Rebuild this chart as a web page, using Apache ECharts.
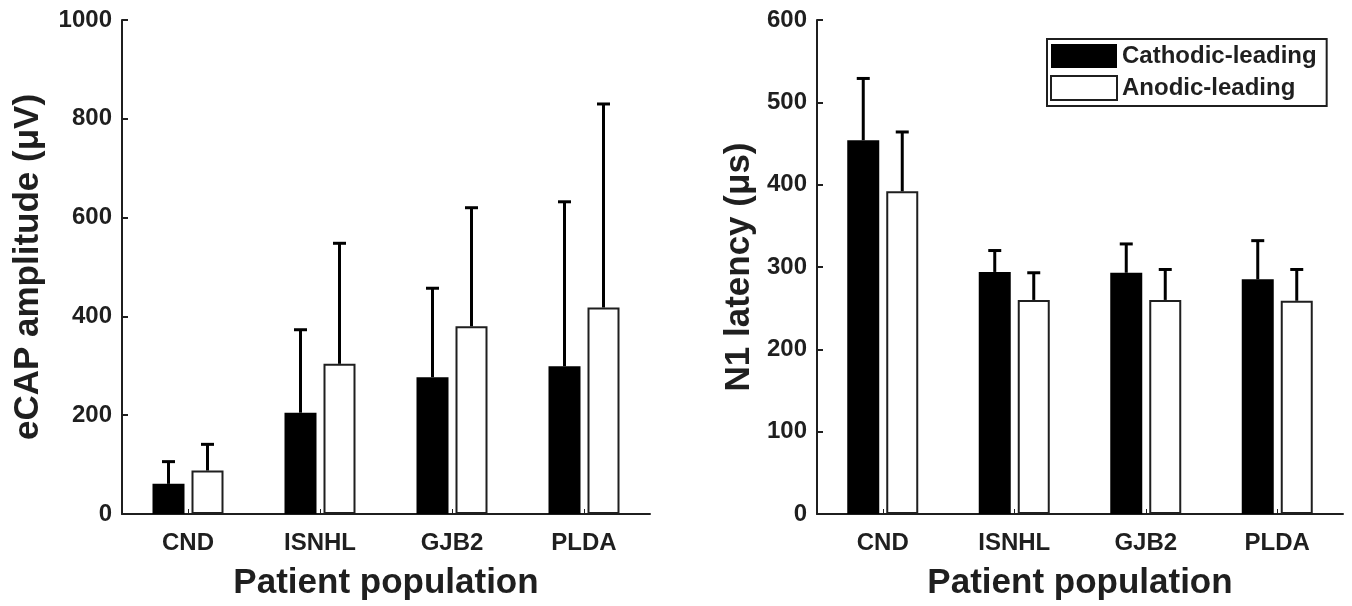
<!DOCTYPE html>
<html><head><meta charset="utf-8">
<script src="https://cdn.jsdelivr.net/npm/echarts@6/dist/echarts.min.js"></script>
<style>html,body{margin:0;padding:0;background:#fff}#c{width:1352px;height:606px}</style>
</head><body><div id="c"></div>
<script>
// ---- data ----
const categories = ['CND', 'ISNHL', 'GJB2', 'PLDA'];
const seriesNames = ['Cathodic-leading', 'Anodic-leading'];
const ampCathodic = [61, 205, 277, 299];
const ampCathodicSD = [45, 168, 180, 333];
const ampAnodic = [88, 304, 380, 418];
const ampAnodicSD = [53, 244, 240, 412];
const latCathodic = [454, 294, 293, 285];
const latCathodicSD = [75, 26, 35, 47];
const latAnodic = [392, 260, 260, 259];
const latAnodicSD = [72, 33, 37, 38];
const xTitle = 'Patient population';
const ampTitle = 'eCAP amplitude (\u03bcV)';
const latTitle = 'N1 latency (\u03bcs)';

// ---- styling ----
const FONT = '"Liberation Sans", Arial, Helvetica, sans-serif';
const INK = '#1f1f1f';
const BAR_W = 32;
const BAR_GAP = 7;
const labelStyle = {fontSize: 24, fontWeight: 'bold', color: INK, fontFamily: FONT};
const titleStyle = {fontSize: 35, fontWeight: 'bold', color: INK, fontFamily: FONT};

function xAxis(gi) {
  return {
    gridIndex: gi, type: 'category', data: categories,
    name: xTitle, nameLocation: 'middle', nameGap: 52, nameTextStyle: titleStyle,
    axisLine: {show: true, lineStyle: {color: INK, width: 2}},
    axisTick: {show: true, inside: true, alignWithLabel: true, length: 5, lineStyle: {color: INK, width: 1}},
    axisLabel: Object.assign({margin: 17}, labelStyle),
    splitLine: {show: false}
  };
}
function yAxis(gi, max, interval, title, gap) {
  return {
    gridIndex: gi, type: 'value', min: 0, max: max, interval: interval,
    name: title, nameLocation: 'middle', nameGap: gap, nameRotate: 90, nameTextStyle: titleStyle,
    axisLine: {show: true, lineStyle: {color: INK, width: 2}},
    axisTick: {show: true, inside: true, length: 6, lineStyle: {color: INK, width: 2}},
    axisLabel: Object.assign({margin: 10, formatter: v => String(v)}, labelStyle),
    splitLine: {show: false}
  };
}
function barSeries(gi, idx, values) {
  const filled = idx === 0;
  return {
    type: 'bar', name: seriesNames[idx], xAxisIndex: gi, yAxisIndex: gi,
    data: values, barWidth: BAR_W, barGap: (BAR_GAP / BAR_W * 100) + '%',
    itemStyle: filled ? {color: '#000', borderWidth: 0}
                      : {color: '#fff', borderColor: INK, borderWidth: 2},
    z: 2
  };
}
function errSeries(gi, idx, means, sds) {
  const offset = (idx === 0 ? -1 : 1) * (BAR_W + BAR_GAP) / 2;
  return {
    type: 'custom', name: 'err' + gi + idx, xAxisIndex: gi, yAxisIndex: gi,
    data: categories.map((c, i) => [i, means[i], sds[i]]),
    encode: {x: 0, y: 1},
    z: 3,
    renderItem: function (params, api) {
      const cat = api.value(0), m = api.value(1), s = api.value(2);
      const p0 = api.coord([cat, m]);
      const p1 = api.coord([cat, m + s]);
      const x = p0[0] + offset;
      const half = 6.5;
      const st = {stroke: '#000', lineWidth: 3};
      return {type: 'group', children: [
        {type: 'line', shape: {x1: x, y1: p0[1], x2: x, y2: p1[1]}, style: st},
        {type: 'line', shape: {x1: x - half, y1: p1[1], x2: x + half, y2: p1[1]}, style: st}
      ]};
    }
  };
}

const chart = echarts.init(document.getElementById('c'), null, {renderer: 'canvas'});
chart.setOption({
  animation: false,
  backgroundColor: '#fff',
  grid: [
    {left: 122, width: 528, top: 20, height: 497},
    {left: 817, width: 526, top: 20, height: 497}
  ],
  xAxis: [xAxis(0), xAxis(1)],
  yAxis: [yAxis(0, 1000, 200, ampTitle, 76), yAxis(1, 600, 100, latTitle, 60)],
  legend: {
    data: seriesNames, orient: 'vertical', left: 1047, top: 39,
    itemWidth: 66, itemHeight: 24, itemGap: 7, icon: 'rect',
    padding: [5, 10, 5, 3], borderColor: INK, borderWidth: 2,
    textStyle: labelStyle, selectedMode: false
  },
  series: [
    barSeries(0, 0, ampCathodic), barSeries(0, 1, ampAnodic),
    barSeries(1, 0, latCathodic), barSeries(1, 1, latAnodic),
    errSeries(0, 0, ampCathodic, ampCathodicSD), errSeries(0, 1, ampAnodic, ampAnodicSD),
    errSeries(1, 0, latCathodic, latCathodicSD), errSeries(1, 1, latAnodic, latAnodicSD)
  ]
});
</script></body></html>
